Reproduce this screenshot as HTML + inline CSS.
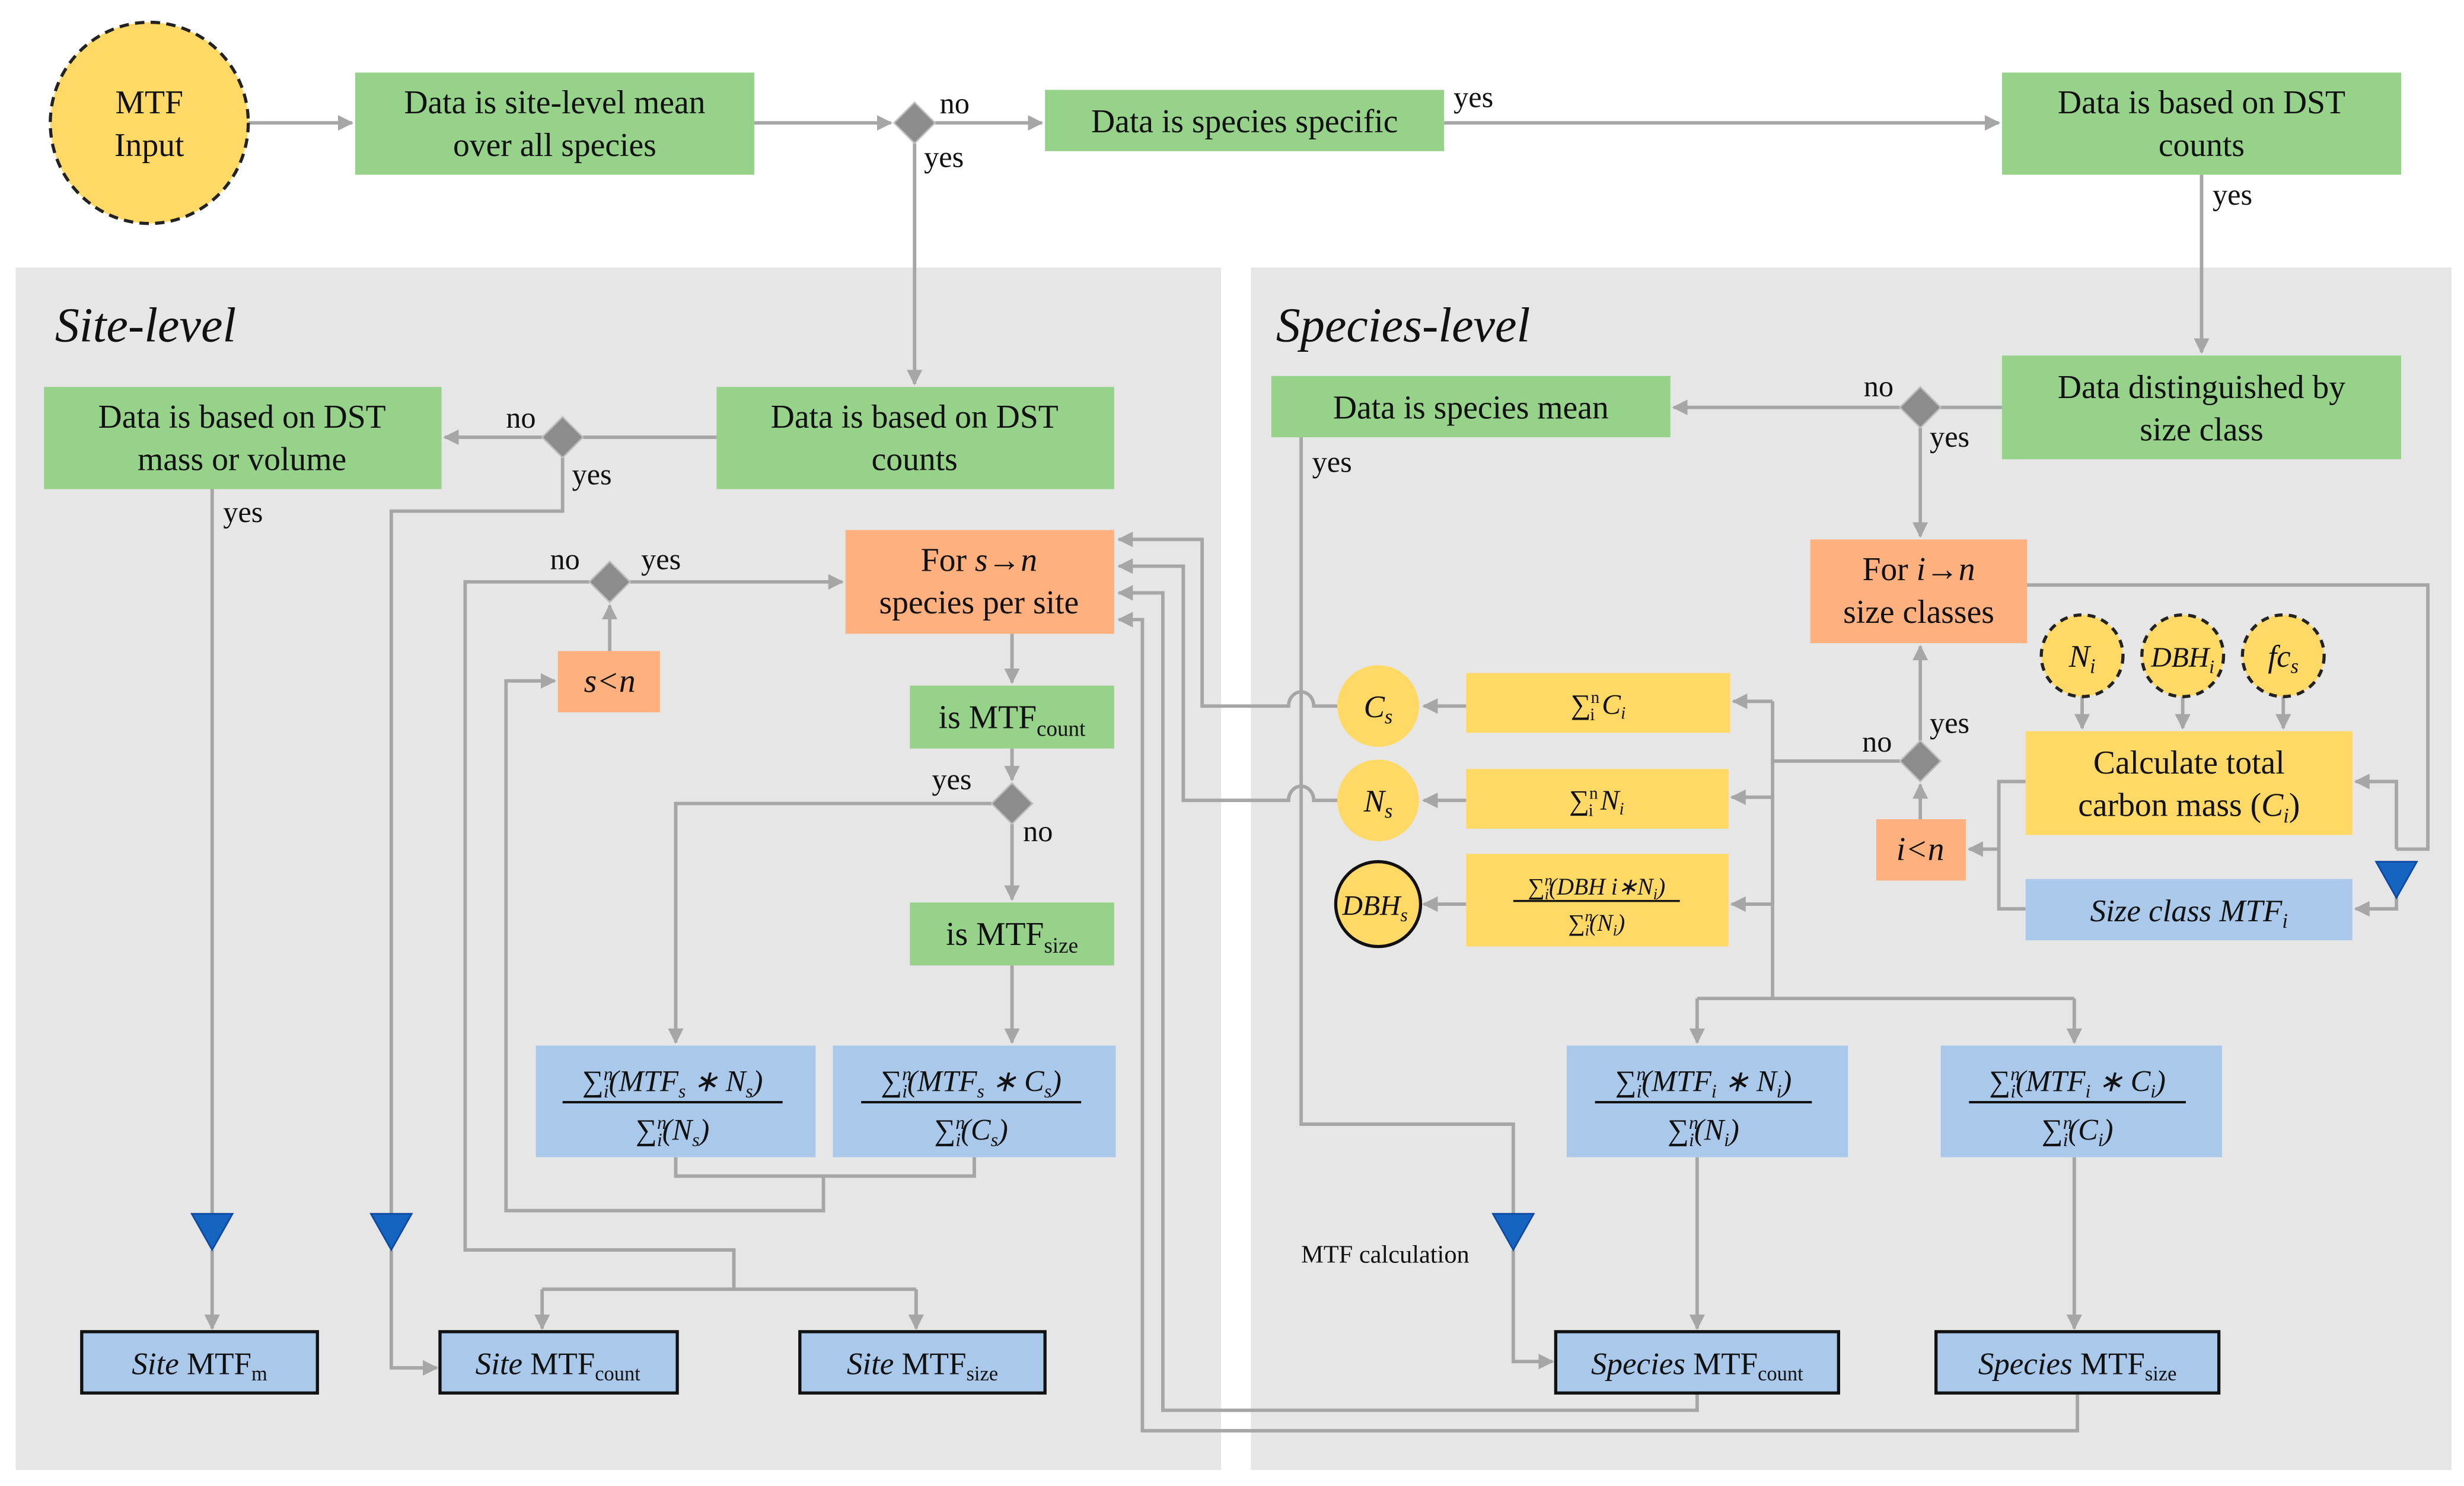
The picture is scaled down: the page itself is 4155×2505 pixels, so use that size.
<!DOCTYPE html>
<html><head><meta charset="utf-8"><style>
html,body{margin:0;padding:0;background:#fff}
svg{display:block}
text{font-family:"Liberation Serif",serif;fill:#111}
</style></head><body>
<svg width="4155" height="2505" viewBox="0 0 1568 945" xmlns="http://www.w3.org/2000/svg">
<defs>
<marker id="a" viewBox="0 0 10 10" refX="9" refY="5" markerWidth="4.5" markerHeight="4.5" orient="auto-start-reverse"><path d="M0,0 L10,5 L0,10 z" fill="#a6a6a6"/></marker>
</defs>
<rect x="10" y="170" width="767" height="765" fill="#e6e6e6"/>
<rect x="796" y="170" width="764" height="765" fill="#e6e6e6"/>
<text x="35" y="217" font-size="31" font-style="italic">Site-level</text>
<text x="812" y="217" font-size="31" font-style="italic">Species-level</text>

<g fill="none" stroke="#a6a6a6" stroke-width="2.2">
<path d="M158,78 H224" marker-end="url(#a)"/>
<path d="M480,78 H567" marker-end="url(#a)"/>
<path d="M595,78 H663" marker-end="url(#a)"/>
<path d="M582,91 V244" marker-end="url(#a)"/>
<path d="M919,78 H1272" marker-end="url(#a)"/>
<path d="M1401,111 V224" marker-end="url(#a)"/>
<path d="M1274,259 H1235"/>
<path d="M1209,259 H1065" marker-end="url(#a)"/>
<path d="M1222,272 V341" marker-end="url(#a)"/>
<path d="M828,278 V715 H963 V772"/>
<path d="M963,795 V866 H988" marker-end="url(#a)"/>
<path d="M456,278 H371"/>
<path d="M345,278 H283" marker-end="url(#a)"/>
<path d="M358,291 V325 H249 V772"/>
<path d="M249,795 V870 H278" marker-end="url(#a)"/>
<path d="M135,311 V772"/>
<path d="M135,795 V845" marker-end="url(#a)"/>
<path d="M388,414 V385" marker-end="url(#a)"/>
<path d="M401,370 H536" marker-end="url(#a)"/>
<path d="M375,370 H296 V795 H467 V820"/>
<path d="M345,820 H583"/>
<path d="M345,820 V845" marker-end="url(#a)"/>
<path d="M583,820 V845" marker-end="url(#a)"/>
<path d="M644,403 V434" marker-end="url(#a)"/>
<path d="M644,476 V496" marker-end="url(#a)"/>
<path d="M631,511 H430 V663" marker-end="url(#a)"/>
<path d="M644,524 V572" marker-end="url(#a)"/>
<path d="M644,614 V663" marker-end="url(#a)"/>
<path d="M430,736 V748 H620 V736"/>
<path d="M524,748 V770 H322 V433 H353" marker-end="url(#a)"/>
<path d="M851,449 H836 A8,9 0 0 0 820,449 H765 V343 H712" marker-end="url(#a)"/>
<path d="M851,509 H836 A8,9 0 0 0 820,509 H753 V360 H712" marker-end="url(#a)"/>
<path d="M1080,886 V897 H740 V377 H712" marker-end="url(#a)"/>
<path d="M1322,886 V910 H727 V394 H712" marker-end="url(#a)"/>
<path d="M933,449 H906" marker-end="url(#a)"/>
<path d="M933,509 H906" marker-end="url(#a)"/>
<path d="M933,575 H906" marker-end="url(#a)"/>
<path d="M1222,521 V499" marker-end="url(#a)"/>
<path d="M1222,471 V411" marker-end="url(#a)"/>
<path d="M1209,484 H1128"/>
<path d="M1128,446 V635"/>
<path d="M1128,446 H1103" marker-end="url(#a)"/>
<path d="M1128,507 H1102" marker-end="url(#a)"/>
<path d="M1128,575 H1102" marker-end="url(#a)"/>
<path d="M1080,635 H1320"/>
<path d="M1080,635 V663" marker-end="url(#a)"/>
<path d="M1320,635 V663" marker-end="url(#a)"/>
<path d="M1290,372 H1545 V540 H1525"/>
<path d="M1525,540 V497 H1499" marker-end="url(#a)"/>
<path d="M1525,570 V578 H1499" marker-end="url(#a)"/>
<path d="M1289,497 H1272 V578 H1289"/>
<path d="M1272,540 H1253" marker-end="url(#a)"/>
<path d="M1325,443 V463" marker-end="url(#a)"/>
<path d="M1389,443 V463" marker-end="url(#a)"/>
<path d="M1453,443 V463" marker-end="url(#a)"/>
<path d="M1080,736 V845" marker-end="url(#a)"/>
<path d="M1320,736 V845" marker-end="url(#a)"/>
</g>

<!-- diamonds -->
<g fill="#8c8c8c" stroke="#bdbdbd" stroke-width="1">
<path d="M582,65 L595,78 L582,91 L569,78 z"/>
<path d="M1222,246 L1235,259 L1222,272 L1209,259 z"/>
<path d="M358,265 L371,278 L358,291 L345,278 z"/>
<path d="M388,357 L401,370 L388,383 L375,370 z"/>
<path d="M644,498 L657,511 L644,524 L631,511 z"/>
<path d="M1222,471 L1235,484 L1222,497 L1209,484 z"/>
</g>
<!-- triangles -->
<g fill="#1565c0" stroke="#0d47a1" stroke-width="1">
<path d="M122,772 L148,772 L135,795 z"/>
<path d="M236,772 L262,772 L249,795 z"/>
<path d="M950,772 L976,772 L963,795 z"/>
<path d="M1512,548 L1538,548 L1525,571 z"/>
</g>

<!-- input circle -->
<ellipse cx="95" cy="78" rx="63" ry="64" fill="#ffd966" stroke="#222" stroke-width="2" stroke-dasharray="6,4"/>
<text x="95" y="72" font-size="21" text-anchor="middle">MTF</text>
<text x="95" y="99" font-size="21" text-anchor="middle">Input</text>

<!-- green boxes -->
<g fill="#96d28a">
<rect x="226" y="46" width="254" height="65"/>
<rect x="665" y="57" width="254" height="39"/>
<rect x="1274" y="46" width="254" height="65"/>
<rect x="1274" y="226" width="254" height="66"/>
<rect x="809" y="239" width="254" height="39"/>
<rect x="456" y="246" width="253" height="65"/>
<rect x="28" y="246" width="253" height="65"/>
<rect x="579" y="436" width="130" height="40"/>
<rect x="579" y="574" width="130" height="40"/>
</g>
<g font-size="21" text-anchor="middle">
<text x="353" y="72">Data is site-level mean</text><text x="353" y="99">over all species</text>
<text x="792" y="84">Data is species specific</text>
<text x="1401" y="72">Data is based on DST</text><text x="1401" y="99">counts</text>
<text x="1401" y="253">Data distinguished by</text><text x="1401" y="280">size class</text>
<text x="936" y="266">Data is species mean</text>
<text x="582" y="272">Data is based on DST</text><text x="582" y="299">counts</text>
<text x="154" y="272">Data is based on DST</text><text x="154" y="299">mass or volume</text>
<text x="644" y="463">is MTF<tspan font-size="14" dy="5">count</tspan></text>
<text x="644" y="601">is MTF<tspan font-size="14" dy="5">size</tspan></text>
</g>

<!-- orange -->
<g fill="#ffb07f">
<rect x="538" y="337" width="171" height="66"/>
<rect x="355" y="414" width="65" height="39"/>
<rect x="1152" y="343" width="138" height="66"/>
<rect x="1194" y="521" width="57" height="39"/>
</g>
<g font-size="21" text-anchor="middle">
<text x="623" y="363">For <tspan font-style="italic">s</tspan>→<tspan font-style="italic">n</tspan></text>
<text x="623" y="390">species per site</text>
<text x="388" y="440" font-style="italic">s&lt;n</text>
<text x="1221" y="369">For <tspan font-style="italic">i</tspan>→<tspan font-style="italic">n</tspan></text>
<text x="1221" y="396">size classes</text>
<text x="1222" y="547" font-style="italic">i&lt;n</text>
</g>

<!-- yellow -->
<g fill="#ffd966">
<rect x="933" y="428" width="168" height="38"/>
<rect x="933" y="489" width="167" height="38"/>
<rect x="933" y="543" width="167" height="59"/>
<rect x="1289" y="465" width="208" height="66"/>
</g>
<circle cx="877" cy="449" r="26" fill="#ffd966"/>
<circle cx="877" cy="509" r="26" fill="#ffd966"/>
<circle cx="877" cy="575" r="27" fill="#ffd966" stroke="#111" stroke-width="2"/>
<g fill="#ffd966" stroke="#222" stroke-width="2" stroke-dasharray="5,4">
<circle cx="1325" cy="417" r="26"/><circle cx="1389" cy="417" r="26"/><circle cx="1453" cy="417" r="26"/>
</g>
<g font-size="20" text-anchor="middle" font-style="italic">
<text x="877" y="456">C<tspan font-size="13" dy="4">s</tspan></text>
<text x="877" y="516">N<tspan font-size="13" dy="4">s</tspan></text>
<text x="875" y="582" font-size="18">DBH<tspan font-size="12" dy="4">s</tspan></text>
<text x="1325" y="424">N<tspan font-size="13" dy="4">i</tspan></text>
<text x="1389" y="424" font-size="18">DBH<tspan font-size="12" dy="4">i</tspan></text>
<text x="1453" y="424">fc<tspan font-size="13" dy="4">s</tspan></text>
</g>
<g font-size="18" text-anchor="middle">
<text x="1017" y="454">∑<tspan font-size="11" dy="-7">n</tspan><tspan font-size="11" dx="-6" dy="11">i</tspan><tspan dy="-4" font-style="italic"> C</tspan><tspan font-size="11" dy="3" font-style="italic">i</tspan></text>
<text x="1016" y="515">∑<tspan font-size="11" dy="-7">n</tspan><tspan font-size="11" dx="-6" dy="11">i</tspan><tspan dy="-4" font-style="italic"> N</tspan><tspan font-size="11" dy="3" font-style="italic">i</tspan></text>
<text x="1016" y="569" font-size="15" font-style="italic">∑<tspan font-size="10" dy="-6">n</tspan><tspan font-size="10" dx="-5" dy="9">i</tspan><tspan dy="-3">(DBH i∗N</tspan><tspan font-size="10" dy="3">i</tspan><tspan dy="-3">)</tspan></text>
<line x1="963" y1="573" x2="1069" y2="573" stroke="#111" stroke-width="1.3"/>
<text x="1016" y="592" font-size="15" font-style="italic">∑<tspan font-size="10" dy="-6">n</tspan><tspan font-size="10" dx="-5" dy="9">i</tspan><tspan dy="-3">(N</tspan><tspan font-size="10" dy="3">i</tspan><tspan dy="-3">)</tspan></text>
<text x="1393" y="492" font-size="21">Calculate total</text>
<text x="1393" y="519" font-size="21">carbon mass (<tspan font-style="italic">C</tspan><tspan font-size="13" dy="4" font-style="italic">i</tspan><tspan dy="-4">)</tspan></text>
</g>

<!-- blue -->
<g fill="#a9c8ea">
<rect x="1289" y="559" width="208" height="39"/>
<rect x="341" y="665" width="178" height="71"/>
<rect x="530" y="665" width="180" height="71"/>
<rect x="997" y="665" width="179" height="71"/>
<rect x="1235" y="665" width="179" height="71"/>
</g>
<g fill="#a9c8ea" stroke="#111" stroke-width="2">
<rect x="52" y="847" width="150" height="39"/>
<rect x="280" y="847" width="151" height="39"/>
<rect x="509" y="847" width="156" height="39"/>
<rect x="990" y="847" width="180" height="39"/>
<rect x="1232" y="847" width="180" height="39"/>
</g>
<g font-size="20" text-anchor="middle">
<text x="1393" y="586" font-style="italic">Size class MTF<tspan font-size="13" dy="4">i</tspan></text>
<text x="127" y="874"><tspan font-style="italic">Site</tspan> MTF<tspan font-size="13" dy="4">m</tspan></text>
<text x="355" y="874"><tspan font-style="italic">Site</tspan> MTF<tspan font-size="13" dy="4">count</tspan></text>
<text x="587" y="874"><tspan font-style="italic">Site</tspan> MTF<tspan font-size="13" dy="4">size</tspan></text>
<text x="1080" y="874"><tspan font-style="italic">Species</tspan> MTF<tspan font-size="13" dy="4">count</tspan></text>
<text x="1322" y="874"><tspan font-style="italic">Species</tspan> MTF<tspan font-size="13" dy="4">size</tspan></text>
</g>
<g font-size="19" text-anchor="middle" font-style="italic">
<text x="428" y="694">∑<tspan font-size="12" dy="-7">n</tspan><tspan font-size="12" dx="-6" dy="11">i</tspan><tspan dy="-4">(MTF</tspan><tspan font-size="12" dy="4">s</tspan><tspan dy="-4"> ∗ N</tspan><tspan font-size="12" dy="4">s</tspan><tspan dy="-4">)</tspan></text>
<text x="428" y="725">∑<tspan font-size="12" dy="-7">n</tspan><tspan font-size="12" dx="-6" dy="11">i</tspan><tspan dy="-4">(N</tspan><tspan font-size="12" dy="4">s</tspan><tspan dy="-4">)</tspan></text>
<text x="618" y="694">∑<tspan font-size="12" dy="-7">n</tspan><tspan font-size="12" dx="-6" dy="11">i</tspan><tspan dy="-4">(MTF</tspan><tspan font-size="12" dy="4">s</tspan><tspan dy="-4"> ∗ C</tspan><tspan font-size="12" dy="4">s</tspan><tspan dy="-4">)</tspan></text>
<text x="618" y="725">∑<tspan font-size="12" dy="-7">n</tspan><tspan font-size="12" dx="-6" dy="11">i</tspan><tspan dy="-4">(C</tspan><tspan font-size="12" dy="4">s</tspan><tspan dy="-4">)</tspan></text>
<text x="1084" y="694">∑<tspan font-size="12" dy="-7">n</tspan><tspan font-size="12" dx="-6" dy="11">i</tspan><tspan dy="-4">(MTF</tspan><tspan font-size="12" dy="4">i</tspan><tspan dy="-4"> ∗ N</tspan><tspan font-size="12" dy="4">i</tspan><tspan dy="-4">)</tspan></text>
<text x="1084" y="725">∑<tspan font-size="12" dy="-7">n</tspan><tspan font-size="12" dx="-6" dy="11">i</tspan><tspan dy="-4">(N</tspan><tspan font-size="12" dy="4">i</tspan><tspan dy="-4">)</tspan></text>
<text x="1322" y="694">∑<tspan font-size="12" dy="-7">n</tspan><tspan font-size="12" dx="-6" dy="11">i</tspan><tspan dy="-4">(MTF</tspan><tspan font-size="12" dy="4">i</tspan><tspan dy="-4"> ∗ C</tspan><tspan font-size="12" dy="4">i</tspan><tspan dy="-4">)</tspan></text>
<text x="1322" y="725">∑<tspan font-size="12" dy="-7">n</tspan><tspan font-size="12" dx="-6" dy="11">i</tspan><tspan dy="-4">(C</tspan><tspan font-size="12" dy="4">i</tspan><tspan dy="-4">)</tspan></text>
</g>
<g stroke="#111" stroke-width="1.5">
<line x1="358" y1="701" x2="498" y2="701"/><line x1="548" y1="701" x2="688" y2="701"/>
<line x1="1015" y1="701" x2="1153" y2="701"/><line x1="1253" y1="701" x2="1391" y2="701"/>
</g>

<!-- labels -->
<g font-size="19">
<text x="598" y="72">no</text><text x="588" y="106">yes</text>
<text x="925" y="68">yes</text><text x="1408" y="130">yes</text>
<text x="1186" y="252">no</text><text x="1228" y="284">yes</text>
<text x="835" y="300">yes</text>
<text x="322" y="272">no</text><text x="364" y="308">yes</text>
<text x="142" y="332">yes</text>
<text x="350" y="362">no</text><text x="408" y="362">yes</text>
<text x="593" y="502">yes</text><text x="651" y="535">no</text>
<text x="1185" y="478">no</text><text x="1228" y="466">yes</text>
<text x="828" y="803" font-size="16">MTF calculation</text>
</g>
</svg>
</body></html>
